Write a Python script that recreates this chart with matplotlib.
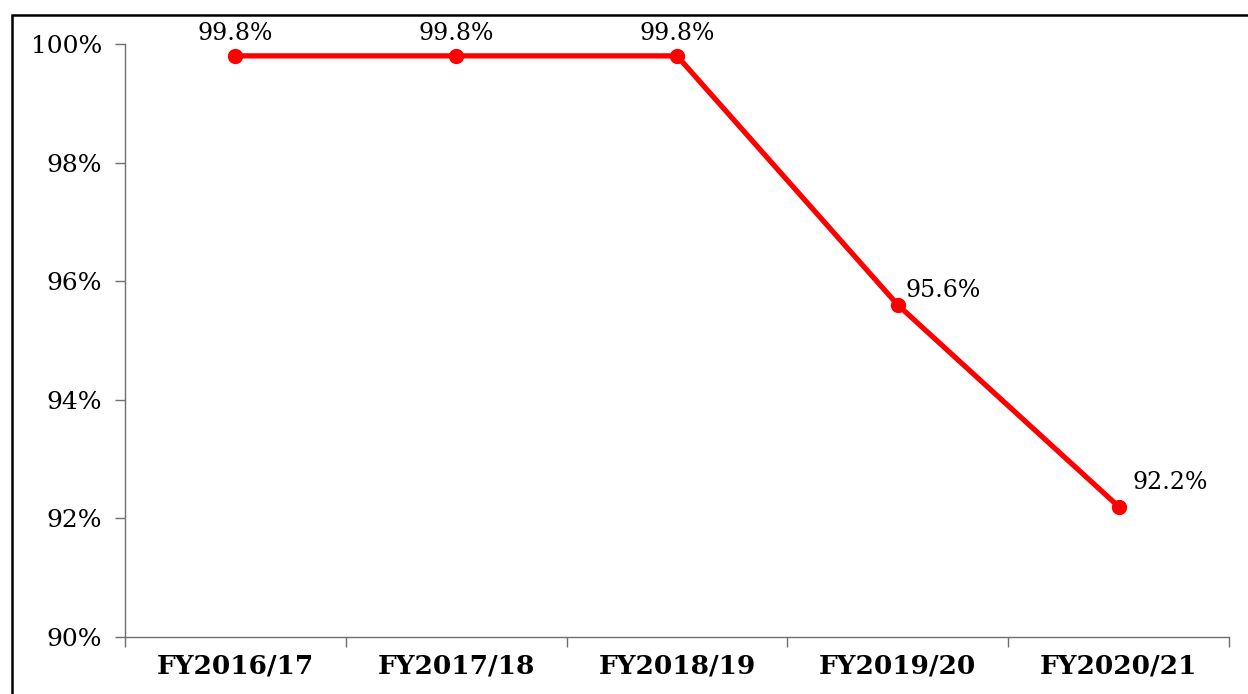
import matplotlib
matplotlib.use("Agg")
import matplotlib.pyplot as plt
from matplotlib.patches import Rectangle
from matplotlib.ticker import FixedLocator, FuncFormatter

categories = ["FY2016/17", "FY2017/18", "FY2018/19", "FY2019/20", "FY2020/21"]
values = [99.8, 99.8, 99.8, 95.6, 92.2]
yticks = [90, 92, 94, 96, 98, 100]

W, H = 1248, 694
fig = plt.figure(figsize=(W / 100, H / 100), dpi=100)
fig.patches.append(Rectangle((11.5 / W, -0.1), 2.0, 1 - 14.5 / H + 0.1,
                             transform=fig.transFigure, fill=False,
                             edgecolor="black", linewidth=1.8))

ax = fig.add_axes([125 / W, 1 - 637 / H, (1229 - 125) / W, (637 - 44) / H])
x = list(range(len(categories)))
ax.plot(x, values, color="#ff0000", linewidth=3.8, marker="o", markersize=10,
        solid_joinstyle="round", clip_on=False, zorder=3)

ax.set_xlim(-0.5, len(categories) - 0.5)
ax.set_ylim(90, 100)

for s in ["top", "right"]:
    ax.spines[s].set_visible(False)
for s in ["left", "bottom"]:
    ax.spines[s].set_color("#6f6f6f")
    ax.spines[s].set_linewidth(1.0)

ax.yaxis.set_major_locator(FixedLocator(yticks))
ax.yaxis.set_major_formatter(FuncFormatter(lambda v, p: f"{v:.0f}%"))
ax.tick_params(axis="y", direction="out", length=7, width=1.0, color="#6f6f6f",
               labelsize=18, pad=9.5)
for lbl in ax.get_yticklabels():
    lbl.set_family("DejaVu Serif")

ax.set_xticks([i + 0.5 for i in range(-1, len(categories))])
ax.set_xticklabels([])
ax.set_xticks(x, minor=True)
ax.set_xticklabels(categories, minor=True, fontfamily="DejaVu Serif",
                   fontweight="bold", fontsize=19)
ax.tick_params(axis="x", which="major", direction="out", length=7, width=1.0,
               color="#6f6f6f")
ax.tick_params(axis="x", which="minor", length=0, pad=12)

offsets = [(0, 22, "center"), (0, 22, "center"), (0, 22, "center"),
           (8, 14, "left"), (14, 24, "left")]
for xi, v, (dx, dy, ha) in zip(x, values, offsets):
    ax.annotate(f"{v:.1f}%", (xi, v), xytext=(dx * 0.72, dy * 0.72),
                textcoords="offset points", ha=ha, va="center",
                fontsize=17, fontfamily="DejaVu Serif")

fig.savefig("out.png", dpi=100)
